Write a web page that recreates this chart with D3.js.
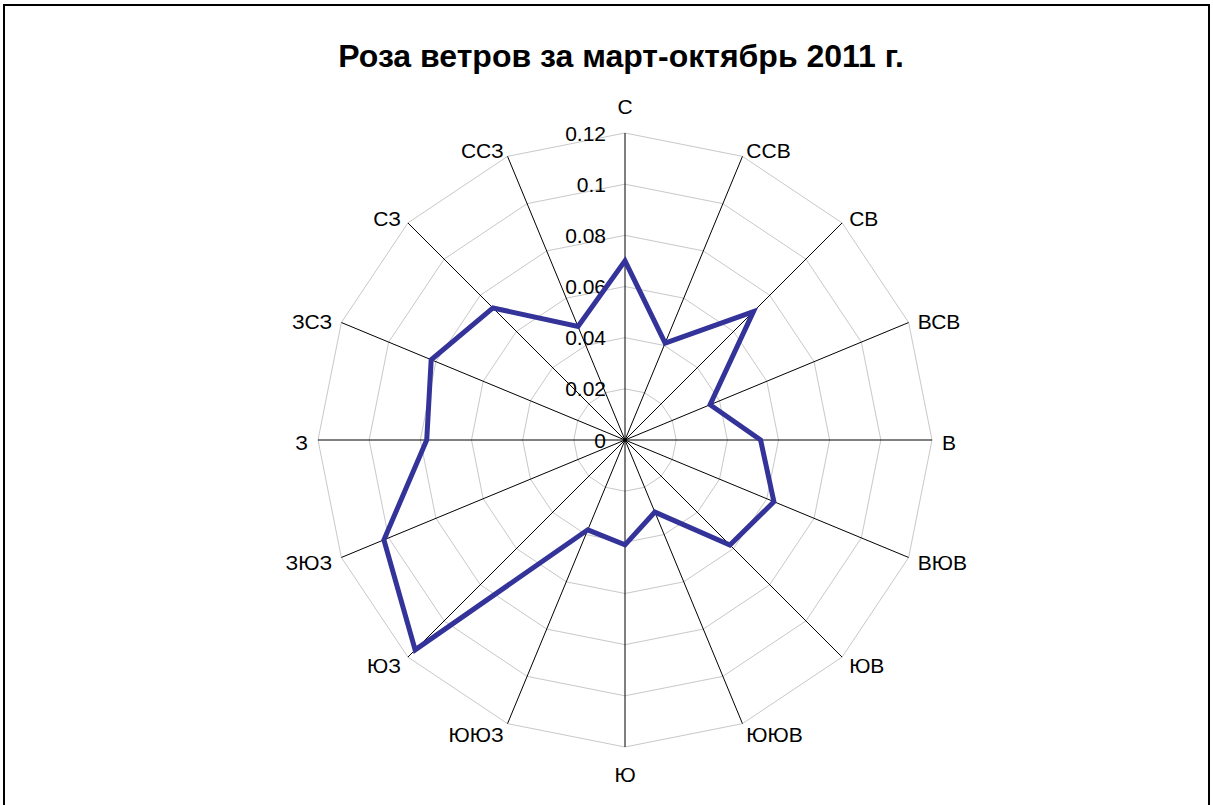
<!DOCTYPE html>
<html lang="ru">
<head>
    <meta charset="UTF-8">
    <title>Роза ветров</title>
    <script src="https://d3js.org/d3.v7.min.js"></script>
    <style>
        body { margin: 0; background: #fff; }
        text { font-family: "Liberation Sans", Arial, sans-serif; fill: #000; }
    </style>
</head>
<body>
<script>
    // directions, clockwise from north
    var directions = ["С", "ССВ", "СВ", "ВСВ", "В", "ВЮВ", "ЮВ", "ЮЮВ",
                      "Ю", "ЮЮЗ", "ЮЗ", "ЗЮЗ", "З", "ЗСЗ", "СЗ", "ССЗ"];
    var frequency = [0.070, 0.041, 0.071, 0.036, 0.053, 0.063, 0.058, 0.0305,
                     0.041, 0.038, 0.116, 0.102, 0.0775, 0.082, 0.073, 0.048];
    var ticks = [0, 0.02, 0.04, 0.06, 0.08, 0.1, 0.12];
    var title = "Роза ветров за март-октябрь 2011 г.";

    var width = 1213, height = 805, cx = 625, cy = 440, radius = 307;

    var svg = d3.select("body").append("svg")
        .attr("width", width)
        .attr("height", height);

    // outer frame
    svg.append("rect")
        .attr("x", 4).attr("y", 5)
        .attr("width", 1205).attr("height", 810)
        .attr("fill", "none")
        .attr("stroke", "#000")
        .attr("stroke-width", 2);

    svg.append("text")
        .attr("x", 621).attr("y", 67)
        .attr("text-anchor", "middle")
        .style("font-size", "32px")
        .style("font-weight", "bold")
        .text(title);

    var r = d3.scaleLinear().domain([0, 0.12]).range([0, radius]);
    var angle = d3.scalePoint().domain(directions).range([0, 2 * Math.PI - 2 * Math.PI / 16]);

    function pt(a, rr) {
        return [rr * Math.sin(a), -rr * Math.cos(a)];
    }

    var g = svg.append("g").attr("transform", "translate(" + cx + "," + cy + ")");

    // grid rings (polygons)
    g.selectAll("path.ring")
        .data(ticks.slice(1))
        .enter().append("path")
        .attr("class", "ring")
        .attr("d", function(t) {
            return d3.line()(directions.map(function(d) { return pt(angle(d), r(t)); })) + "Z";
        })
        .attr("fill", "none")
        .attr("stroke", "#c8c8c8")
        .attr("stroke-width", 1);

    // spokes
    g.selectAll("line.spoke")
        .data(directions)
        .enter().append("line")
        .attr("class", "spoke")
        .attr("x1", 0).attr("y1", 0)
        .attr("x2", function(d) { return pt(angle(d), radius)[0]; })
        .attr("y2", function(d) { return pt(angle(d), radius)[1]; })
        .attr("stroke", "#000")
        .attr("stroke-width", 1);

    // tick labels along north axis
    g.selectAll("text.tick")
        .data(ticks)
        .enter().append("text")
        .attr("class", "tick")
        .attr("x", -19)
        .attr("y", function(t) { return -r(t); })
        .attr("dy", "0.36em")
        .attr("text-anchor", "end")
        .style("font-size", "21px")
        .text(function(t) { return String(t); });

    // series
    g.append("path")
        .datum(frequency)
        .attr("d", function(vals) {
            return d3.line()(vals.map(function(v, i) { return pt(angle(directions[i]), r(v)); })) + "Z";
        })
        .attr("fill", "none")
        .attr("stroke", "#333399")
        .attr("stroke-width", 5)
        .attr("stroke-linejoin", "miter");

    // direction labels
    g.selectAll("text.dir")
        .data(directions)
        .enter().append("text")
        .attr("class", "dir")
        .attr("text-anchor", "middle")
        .attr("dy", "0.36em")
        .style("font-size", "21px")
        .text(function(d) { return d; })
        .each(function(d) {
            var a = angle(d);
            var s = Math.sin(a), c = Math.cos(a);
            var p = pt(a, radius);
            var bb = this.getBBox();
            var x, y;
            if (Math.abs(s) < 0.01) {
                x = p[0];
                y = p[1] - c * 27;
            } else {
                x = p[0] + Math.sign(s) * (bb.width / 2 + 10 * Math.abs(s));
                y = p[1] - c * 9 + 2;
            }
            d3.select(this).attr("x", x).attr("y", y);
        });
</script>
</body>
</html>
